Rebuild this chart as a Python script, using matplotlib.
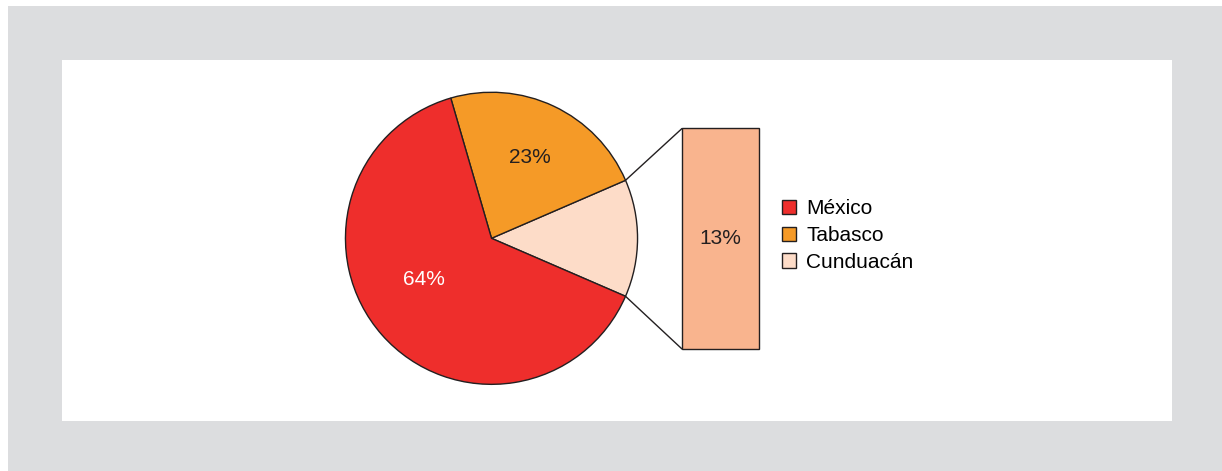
import numpy as np
import matplotlib.pyplot as plt
from matplotlib.patches import Rectangle, ConnectionPatch

plt.rcParams['font.family'] = ['Liberation Sans', 'DejaVu Sans']

# Data
labels = ['Cunduacán', 'Tabasco', 'México']
values = [13, 23, 64]
colors = ['#fddcc8', '#f59a27', '#ee2e2c']
bar_color = '#f9b48e'
legend_order = ['México', 'Tabasco', 'Cunduacán']

W, H = 1222, 471
fig = plt.figure(figsize=(W / 100, H / 100), dpi=100)
fig.patch.set_facecolor('white')

# gray frame and white panel
fig.patches.append(Rectangle((8 / W, 0), 1 - 8 / W, (H - 6) / H, transform=fig.transFigure,
                             facecolor='#dcdddf', edgecolor='none', zorder=-2))
fig.patches.append(Rectangle((62 / W, (H - 421) / H), (1172 - 62) / W, (421 - 60) / H,
                             transform=fig.transFigure, facecolor='white', edgecolor='none', zorder=-1))

# pie
cx, cy, r = 491.5, 238.3, 147.5
ax = fig.add_axes([(cx - r) / W, (H - cy - r) / H, 2 * r / W, 2 * r / H])
start = -values[0] / 100 * 360 / 2
wedges, texts, autotexts = ax.pie(values, colors=colors, startangle=start, counterclock=True,
                                  autopct='%d%%', pctdistance=0.61,
                                  wedgeprops=dict(edgecolor='#231f20', linewidth=1.0),
                                  textprops=dict(fontsize=15, color='#231f20'))
ax.set_xlim(-1.01, 1.01)
ax.set_ylim(-1.01, 1.01)
ax.set_aspect('equal')
autotexts[0].set_visible(False)
autotexts[2].set_color('white')
autotexts[2].set_position((-0.46, -0.28))

# bar for Cunduacán
bx0, bx1, by0, by1 = 682, 759, 128.5, 349
bax = fig.add_axes([bx0 / W, (H - by1) / H, (bx1 - bx0) / W, (by1 - by0) / H])
bars = bax.bar([0], [values[0]], width=1, color=bar_color, edgecolor='#231f20', linewidth=1.0)
for b in bars:
    b.set_clip_on(False)
bax.set_xlim(-0.5, 0.5)
bax.set_ylim(0, values[0])
bax.axis('off')
bax.text(0, values[0] / 2, f'{values[0]}%', ha='center', va='center', fontsize=15, color='#231f20')

# connector lines
w = wedges[0]
for ang, yb in [(w.theta2, values[0]), (w.theta1, 0)]:
    con = ConnectionPatch(xyA=(np.cos(np.radians(ang)), np.sin(np.radians(ang))), coordsA=ax.transData,
                          xyB=(-0.5, yb), coordsB=bax.transData, color='#231f20', linewidth=1.0)
    fig.add_artist(con)

# legend
handles = [wedges[labels.index(n)] for n in legend_order]
fig.legend(handles, legend_order, loc='upper left', bbox_to_anchor=(782 / W, (H - 199) / H),
           frameon=False, fontsize=15, handlelength=0.67, handleheight=0.67, handletextpad=0.5,
           labelspacing=0.38, borderpad=0, borderaxespad=0)

fig.savefig('out.png', dpi=100)
